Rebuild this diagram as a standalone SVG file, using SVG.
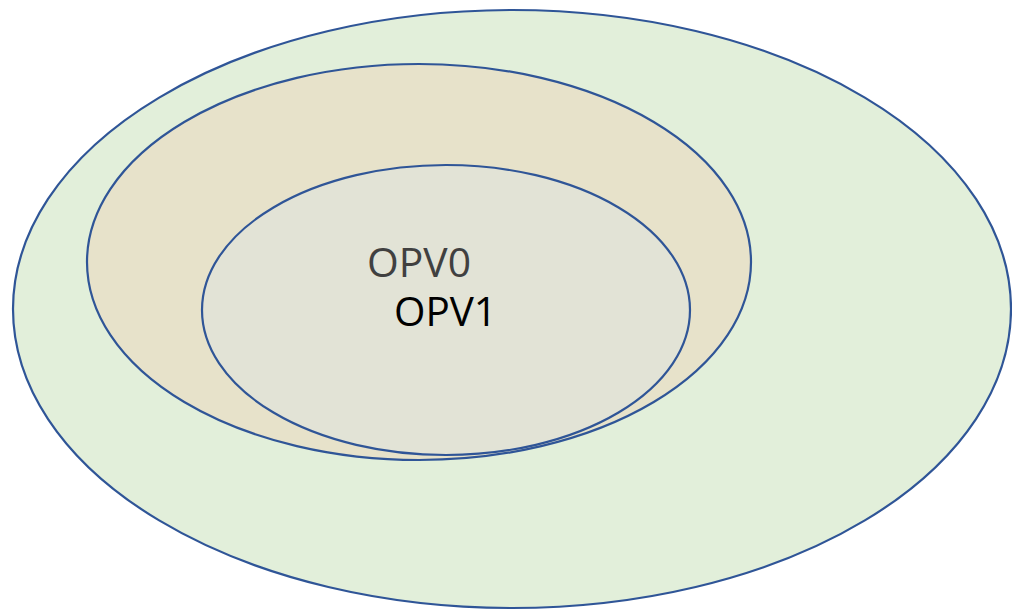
<svg xmlns="http://www.w3.org/2000/svg" width="1012" height="610" viewBox="0 0 1012 610">
<style>
.e{stroke:#2F5597;stroke-width:2.2}
.t{font-family:"Open Sans","Liberation Sans",sans-serif;font-size:40px}
</style>
<rect width="1012" height="610" fill="#ffffff"/>
<g id="outer"><ellipse class="e" cx="512" cy="309" rx="499" ry="299" fill="#E2EFDA"/></g>
<g id="middle"><ellipse class="e" cx="419" cy="262" rx="332" ry="198" fill="#E7E2CA"/></g>
<g id="inner"><ellipse class="e" cx="446" cy="310" rx="244" ry="145" fill="#E2E3D6"/></g>
<g id="labels">
<text class="t" x="367" y="277" fill="#404040" textLength="104" lengthAdjust="spacingAndGlyphs">OPV0</text>
<text class="t" x="394" y="326" fill="#000000" textLength="103" lengthAdjust="spacingAndGlyphs">OPV1</text>
</g>
</svg>
